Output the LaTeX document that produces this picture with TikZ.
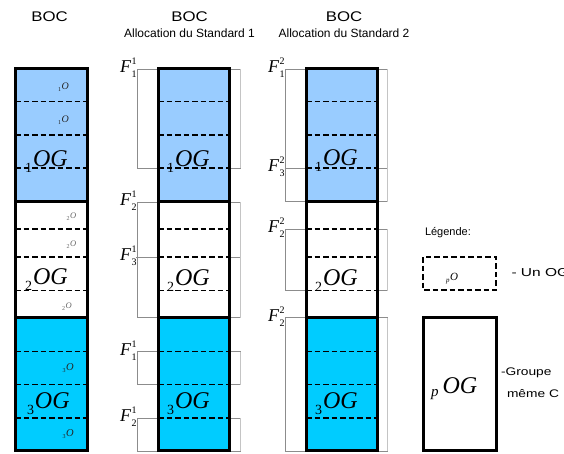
\documentclass[tikz,border=0pt]{standalone}
\usepackage{fontspec}
\setmainfont{Liberation Serif}
\newfontfamily\arialf{Liberation Sans}
\definecolor{lblue}{HTML}{99CCFF}
\definecolor{cyanb}{HTML}{00CCFF}
\definecolor{fgray}{HTML}{8C8C8C}
\definecolor{fgrayl}{HTML}{C4C4C4}
\newcommand\pog[1]{\raisebox{-6pt}{\fontsize{14}{14}\selectfont #1}\kern1pt{\fontsize{24}{24}\selectfont\itshape OG}}
\newcommand\pso[2]{\raisebox{-2pt}{\fontsize{6}{6}\selectfont #1}\kern0.5pt{\fontsize{#2}{#2}\selectfont\itshape O}}
\newcommand\flab[2]{{\fontsize{18}{18}\selectfont\itshape F}\kern0.5pt\makebox[0pt][l]{\raisebox{7.5pt}{\fontsize{10}{10}\selectfont #2}}\raisebox{-5.5pt}{\fontsize{10}{10}\selectfont #1}}
\tikzset{
  txt/.style={inner sep=0pt, outer sep=0pt},
  dl/.style={line width=1.4pt, dash pattern=on 5.5pt off 3pt},
  thickb/.style={line width=3pt},
  frect/.style={draw=fgray, line width=0.9pt},
  fright/.style={draw=fgrayl, line width=0.9pt},
}
\begin{document}
\begin{tikzpicture}[x=1pt,y=-1pt]
\useasboundingbox (0,0) rectangle (564,453);
\clip (0,0) rectangle (564,453);
\fill[white] (0,0) rectangle (564,453);

% headers
\node[txt] (boc1) at (49.5,16.5) {\arialf\fontsize{14}{14}\selectfont\scalebox{1.2}[1]{BOC}};
\node[txt] (boc2) at (189.5,16.5) {\arialf\fontsize{14}{14}\selectfont\scalebox{1.2}[1]{BOC}};
\node[txt] (boc3) at (344,16.5) {\arialf\fontsize{14}{14}\selectfont\scalebox{1.2}[1]{BOC}};
\node[txt] (al1) at (189.5,33.5) {\arialf\fontsize{12}{12}\selectfont Allocation du Standard 1};
\node[txt] (al2) at (344,33.5) {\arialf\fontsize{12}{12}\selectfont Allocation du Standard 2};

% F rectangles column 2
\draw[frect] (137.3,69) rectangle (240,168);
\draw[frect] (137.3,202) rectangle (240,317.5);
\draw[frect] (136,257) -- (240,257);
\draw[frect] (137.3,351.7) rectangle (240,384.5);
\draw[frect] (137.3,418) rectangle (240,451);
\foreach \a/\b in {69/168,202/317.5,351.7/384.5,418/451}
  \draw[fright] (240,\a) -- (240,\b);
% F rectangles column 3
\draw[frect] (285.7,69) rectangle (387.7,201.7);
\draw[frect] (284.5,168) -- (387.7,168);
\draw[frect] (285.7,229) rectangle (387.7,290.5);
\draw[frect] (285.7,317.5) rectangle (387.7,451);
\foreach \a/\b in {69/201.7,229/290.5,317.5/451}
  \draw[fright] (387.7,\a) -- (387.7,\b);

% columns
\foreach \L/\R in {15/87,158/229,306/377}{
  \fill[lblue] (\L,68.5) rectangle (\R,201.5);
  \fill[white] (\L,201.5) rectangle (\R,317.5);
  \fill[cyanb] (\L,317.5) rectangle (\R,450.5);
  \foreach \y in {101.5,135,168,229,257,290.5,351.5,384.5,418}
    \draw[dl] (\L,\y) -- (\R,\y);
  \draw[thickb] (\L,201.5) -- (\R,201.5);
  \draw[thickb] (\L,317.5) -- (\R,317.5);
  \draw[thickb] (\L,68.5) rectangle (\R,450.5);
}

% F labels
\node[txt, anchor=base east] (f11a) at (136.5,72) {\flab{1}{1}};
\node[txt, anchor=base east] (f21a) at (136.5,205) {\flab{2}{1}};
\node[txt, anchor=base east] (f31a) at (136.5,260) {\flab{3}{1}};
\node[txt, anchor=base east] (f11b) at (136.5,355) {\flab{1}{1}};
\node[txt, anchor=base east] (f21b) at (136.5,421) {\flab{2}{1}};
\node[txt, anchor=base east] (f12a) at (284.5,72) {\flab{1}{2}};
\node[txt, anchor=base east] (f32a) at (284.5,171) {\flab{3}{2}};
\node[txt, anchor=base east] (f22a) at (284.5,232) {\flab{2}{2}};
\node[txt, anchor=base east] (f22b) at (284.5,321) {\flab{2}{2}};

% OG labels
\node[txt, anchor=base west] (og11) at (25,166) {\pog{1}};
\node[txt, anchor=base west] (og12) at (25,284) {\pog{2}};
\node[txt, anchor=base west] (og13) at (27,408) {\pog{3}};
\node[txt, anchor=base west] (og21) at (167,166) {\pog{1}};
\node[txt, anchor=base west] (og22) at (167,285) {\pog{2}};
\node[txt, anchor=base west] (og23) at (167,408) {\pog{3}};
\node[txt, anchor=base west] (og31) at (315,165) {\pog{1}};
\node[txt, anchor=base west] (og32) at (315,285) {\pog{2}};
\node[txt, anchor=base west] (og33) at (315,408) {\pog{3}};

% small O labels in column 1
\node[txt, anchor=base west, text=black!85] (o1a) at (58,89) {\pso{1}{10}};
\node[txt, anchor=base west, text=black!85] (o1b) at (58,122) {\pso{1}{10}};
\node[txt, anchor=base west, text=black!60] (o2a) at (66.5,218) {\pso{2}{8.5}};
\node[txt, anchor=base west, text=black!60] (o2b) at (66.5,246) {\pso{2}{8.5}};
\node[txt, anchor=base west, text=black!60] (o2c) at (62,308) {\pso{2}{8.5}};
\node[txt, anchor=base west, text=black!85] (o3a) at (62.5,370) {\pso{3}{10.5}};
\node[txt, anchor=base west, text=black!85] (o3b) at (62.5,436) {\pso{3}{10.5}};

% legend
\node[txt, anchor=west] (leg) at (425,233) {\arialf\fontsize{11}{11}\selectfont Légende:};
\draw[dl] (423,257) rectangle (496,290);
\node[txt, anchor=base west] (lpo) at (446,280) {\raisebox{-2pt}{\fontsize{7}{7}\selectfont\itshape p}\kern0.5pt{\fontsize{11}{11}\selectfont\itshape O}};
\node[txt, anchor=west] (lun) at (511.5,273) {\arialf\fontsize{11.5}{11.5}\selectfont\scalebox{1.35}[1]{- Un OG}};
\draw[thickb] (423,317.5) rectangle (496,450.5);
\node[txt, anchor=base west] (lpog) at (431,393) {\raisebox{-3pt}{\fontsize{15}{15}\selectfont\itshape p}\kern4pt{\fontsize{24}{24}\selectfont\itshape OG}};
\node[txt, anchor=west] (lgr) at (501,373) {\arialf\fontsize{11}{11}\selectfont\scalebox{1.25}[1]{-Groupe}};
\node[txt, anchor=west] (lme) at (507,394) {\arialf\fontsize{11}{11}\selectfont\scalebox{1.25}[1]{même C}};
\end{tikzpicture}
\end{document}
